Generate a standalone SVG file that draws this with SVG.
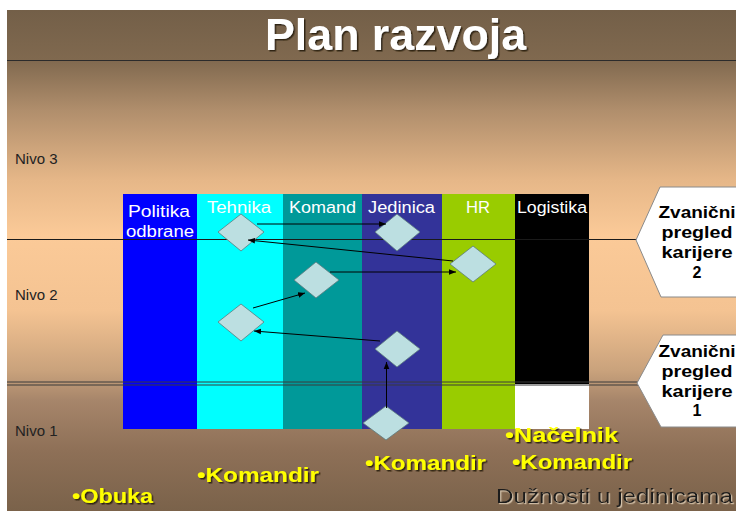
<svg xmlns="http://www.w3.org/2000/svg" width="736" height="511" viewBox="0 0 736 511">
<defs>
<linearGradient id="bg" x1="0" y1="10" x2="0" y2="511" gradientUnits="userSpaceOnUse">
<stop offset="0" stop-color="#735f48"/>
<stop offset="0.1" stop-color="#80694f"/>
<stop offset="0.2" stop-color="#b08e6c"/>
<stop offset="0.34" stop-color="#e6b788"/>
<stop offset="0.45" stop-color="#fbca98"/>
<stop offset="0.6" stop-color="#f4c392"/>
<stop offset="0.72" stop-color="#c9a27c"/>
<stop offset="0.78" stop-color="#a6856a"/>
<stop offset="0.88" stop-color="#8e7057"/>
<stop offset="1" stop-color="#7a624a"/>
</linearGradient>
<marker id="ah" viewBox="0 0 10 10" refX="10" refY="5" markerWidth="7" markerHeight="7" orient="auto" markerUnits="userSpaceOnUse">
<path d="M0,1 L10,5 L0,9 Z" fill="#000"/>
</marker>
<filter id="sh" x="-10%" y="-20%" width="130%" height="160%">
<feDropShadow dx="1.5" dy="1.5" stdDeviation="0.6" flood-color="#2a1d10" flood-opacity="0.9"/>
</filter>
<filter id="shl" x="-10%" y="-20%" width="130%" height="160%">
<feDropShadow dx="1.2" dy="1.2" stdDeviation="0.5" flood-color="#e8d8c0" flood-opacity="0.8"/>
</filter>
</defs>
<style>
.lbl{font-family:"Liberation Sans",Arial,sans-serif;font-size:16px;fill:#ffffff}
.nivo{font-family:"Liberation Sans",Arial,sans-serif;font-size:15px;fill:#222222}
.pent{fill:#ffffff;stroke:#8a8a8a;stroke-width:1}
.ptxt{font-family:"Liberation Sans",Arial,sans-serif;font-size:16px;font-weight:bold;fill:#000;text-anchor:middle}
.dia{fill:#bcdfe1;stroke:#5d7b7d;stroke-width:0.8}
.con{stroke:#000;stroke-width:1;fill:none;marker-end:url(#ah)}
.yel{font-family:"Liberation Sans",Arial,sans-serif;font-size:20px;font-weight:bold;fill:#ffff00;filter:url(#sh)}
.rule{stroke:#2b2b2b;stroke-width:1}
</style>
<rect x="0" y="0" width="736" height="511" fill="#ffffff"/>
<rect x="7" y="10" width="729" height="501" fill="url(#bg)"/>
<g id="title">
<text x="265" y="50" font-family="'Liberation Sans',Arial,sans-serif" font-size="44" font-weight="bold" fill="#ffffff" textLength="261" lengthAdjust="spacingAndGlyphs" filter="url(#sh)">Plan razvoja</text>
</g>
<line class="rule" x1="7" y1="60.5" x2="736" y2="60.5"/>
<g id="columns">
<rect x="123" y="194" width="74" height="235" fill="#0000ff"/>
<rect x="197" y="194" width="86" height="235" fill="#00ffff"/>
<rect x="283" y="194" width="79" height="235" fill="#009999"/>
<rect x="362" y="194" width="80" height="235" fill="#333399"/>
<rect x="442" y="194" width="73" height="235" fill="#99cc00"/>
<rect x="515" y="194" width="74" height="190" fill="#000000"/>
<rect x="515" y="384" width="74" height="45" fill="#ffffff"/>
<text class="lbl" x="128" y="217" textLength="62" lengthAdjust="spacingAndGlyphs">Politika</text>
<text class="lbl" x="126" y="237" textLength="68" lengthAdjust="spacingAndGlyphs">odbrane</text>
<text class="lbl" x="207" y="213" textLength="64" lengthAdjust="spacingAndGlyphs">Tehnika</text>
<text class="lbl" x="289" y="213" textLength="67" lengthAdjust="spacingAndGlyphs">Komand</text>
<text class="lbl" x="368" y="213" textLength="67" lengthAdjust="spacingAndGlyphs">Jedinica</text>
<text class="lbl" x="466" y="213" textLength="24" lengthAdjust="spacingAndGlyphs">HR</text>
<text class="lbl" x="517" y="213" textLength="70" lengthAdjust="spacingAndGlyphs">Logistika</text>
</g>
<g id="levels">
<line x1="7" y1="239.5" x2="637" y2="239.5" stroke="#1a1a1a" stroke-width="1"/>
<line x1="7" y1="382" x2="640" y2="382" stroke="#3a3a3a" stroke-width="1"/>
<line x1="7" y1="385" x2="640" y2="385" stroke="#3a3a3a" stroke-width="1"/>
<text class="nivo" x="15" y="164">Nivo 3</text>
<text class="nivo" x="15" y="300">Nivo 2</text>
<text class="nivo" x="15" y="436">Nivo 1</text>
</g>
<g id="review2">
<polygon class="pent" points="660,187 740,187 740,297 661,297 636,240"/>
<text class="ptxt" x="697" y="218" textLength="77" lengthAdjust="spacingAndGlyphs">Zvanični</text>
<text class="ptxt" x="697" y="238" textLength="71" lengthAdjust="spacingAndGlyphs">pregled</text>
<text class="ptxt" x="697" y="258" textLength="71" lengthAdjust="spacingAndGlyphs">karijere</text>
<text class="ptxt" x="697" y="278">2</text>
</g>
<g id="review1">
<polygon class="pent" points="663,335 740,335 740,427 661,427 637,383"/>
<text class="ptxt" x="697" y="357" textLength="77" lengthAdjust="spacingAndGlyphs">Zvanični</text>
<text class="ptxt" x="697" y="377" textLength="71" lengthAdjust="spacingAndGlyphs">pregled</text>
<text class="ptxt" x="697" y="397" textLength="71" lengthAdjust="spacingAndGlyphs">karijere</text>
<text class="ptxt" x="697" y="416">1</text>
</g>
<g id="d-tehnika-top"><polygon class="dia" points="218,232 241,214 264,232 241,251"/></g>
<g id="d-jedinica-top"><polygon class="dia" points="375,232 397,214 420,232 397,251"/></g>
<g id="d-hr"><polygon class="dia" points="450,264 473,246 496,264 473,282"/></g>
<g id="d-komand"><polygon class="dia" points="294,280 316,262 339,280 316,298"/></g>
<g id="d-tehnika-low"><polygon class="dia" points="218,322 241,304 264,322 241,341"/></g>
<g id="d-jedinica-low"><polygon class="dia" points="375,349 397,331 420,349 397,367"/></g>
<g id="d-bottom"><polygon class="dia" points="363,423 386,406 409,423 386,440"/></g>
<g id="connectors">
<line class="con" x1="257" y1="224" x2="386" y2="224"/>
<line class="con" x1="453" y1="261" x2="248" y2="240"/>
<line class="con" x1="330" y1="272" x2="456" y2="272"/>
<line class="con" x1="253" y1="308" x2="305" y2="293"/>
<line class="con" x1="380" y1="341" x2="254" y2="331"/>
<line class="con" x1="386.5" y1="408" x2="386.5" y2="362"/>
</g>
<g id="duties">
<text class="yel" x="505" y="442" textLength="113" lengthAdjust="spacingAndGlyphs">•Načelnik</text>
<text class="yel" x="365" y="470" textLength="121" lengthAdjust="spacingAndGlyphs">•Komandir</text>
<text class="yel" x="512" y="469" textLength="120" lengthAdjust="spacingAndGlyphs">•Komandir</text>
<text class="yel" x="197" y="482" textLength="122" lengthAdjust="spacingAndGlyphs">•Komandir</text>
<text class="yel" x="72" y="503" textLength="81" lengthAdjust="spacingAndGlyphs">•Obuka</text>
<text x="496" y="503" font-family="'Liberation Sans',Arial,sans-serif" font-size="20" fill="#1c1c1c" textLength="237" lengthAdjust="spacingAndGlyphs" filter="url(#shl)">Dužnosti u jedinicama</text>
</g>
</svg>
